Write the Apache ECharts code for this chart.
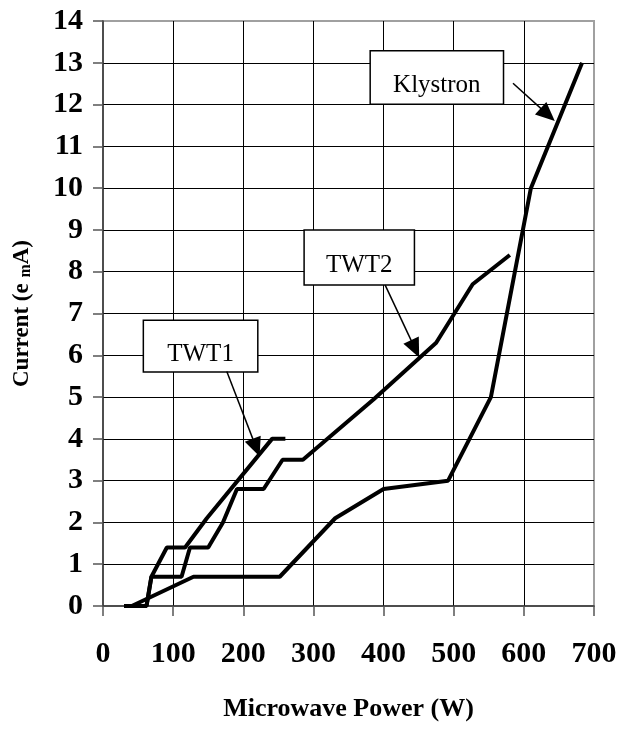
<!DOCTYPE html>
<html>
<head>
<meta charset="utf-8">
<script src="https://cdn.jsdelivr.net/npm/echarts@6/dist/echarts.min.js"></script>
<style>
  html, body { margin: 0; padding: 0; background: #fff; }
  #chart { width: 621px; height: 729px; }
</style>
</head>
<body>
<div id="chart"></div>
<script>
// ---- Data ----
const xTicks = { min: 0, max: 700, step: 100 };
const yTicks = { min: 0, max: 14, step: 1 };

const twt1 = [[30,0],[62,0],[69,0.7],[91,1.4],[117,1.4],[148,2.1],[241,4.0],[260,4.0]];
const twt2 = [[30,0],[62,0],[69,0.7],[112,0.7],[124,1.4],[150,1.4],[171,2.0],[191,2.8],[229,2.8],[256,3.5],[285,3.5],[386,4.95],[475,6.3],[527,7.7],[580,8.4]];
const klystron = [[41,0],[129,0.7],[252,0.7],[331,2.1],[400,2.8],[492,3.0],[553,5.0],[610,10.0],[683,13.0]];

// Annotation boxes (data coords) and labels
const boxLabels = ['TWT1', 'TWT2', 'Klystron'];
const boxCorners = [
  [[57.5, 6.84], [220.7, 5.60]],
  [[286.7, 9.0], [444, 7.68]],
  [[380.9, 13.29], [571, 12.01]]
];
// Arrows: [from, to] in data coords
const arrows = [
  [[176.5, 5.61], [218.4, 3.79]],
  [[402.3, 7.68], [445, 6.155]],
  [[584.5, 12.51], [634, 11.76]]
];

const serif = '"Liberation Serif", "Times New Roman", serif';

const chart = echarts.init(document.getElementById('chart'), null, { renderer: 'canvas' });

const lineStyle = { color: '#000', width: 4 };

const option = {
  animation: false,
  backgroundColor: '#fff',
  grid: {
    left: 103, top: 21, right: 27, bottom: 123,
    show: true, borderColor: '#a0a0a0', borderWidth: 2, backgroundColor: 'transparent'
  },
  xAxis: {
    type: 'value',
    min: xTicks.min, max: xTicks.max, interval: xTicks.step,
    name: 'Microwave Power (W)',
    nameLocation: 'middle',
    nameGap: 90,
    nameTextStyle: { fontFamily: serif, fontWeight: 'bold', fontSize: 26, color: '#000' },
    axisLine: { show: true, onZero: false, lineStyle: { color: '#333', width: 1.5 } },
    axisTick: { show: true, length: 10, lineStyle: { color: '#555', width: 1.5 } },
    axisLabel: { margin: 33, fontFamily: serif, fontWeight: 'bold', fontSize: 30, color: '#000' },
    splitLine: { show: true, showMinLine: false, showMaxLine: false, lineStyle: { color: '#000', width: 1 } }
  },
  yAxis: {
    type: 'value',
    min: yTicks.min, max: yTicks.max, interval: yTicks.step,
    name: 'Current (e {sub|m}A)',
    nameLocation: 'middle',
    nameGap: 69,
    nameTextStyle: {
      fontFamily: serif, fontWeight: 'bold', fontSize: 23, color: '#000',
      rich: { sub: { fontFamily: serif, fontWeight: 'bold', fontSize: 16, color: '#000', padding: [6, 0, 0, 0] } }
    },
    axisLine: { show: true, onZero: false, lineStyle: { color: '#333', width: 1.5 } },
    axisTick: { show: true, length: 10, lineStyle: { color: '#555', width: 1.5 } },
    axisLabel: { margin: 20, fontFamily: serif, fontWeight: 'bold', fontSize: 30, color: '#000' },
    splitLine: { show: true, showMinLine: false, showMaxLine: false, lineStyle: { color: '#000', width: 1 } }
  },
  series: [
    {
      name: 'TWT1', type: 'line', data: twt1, showSymbol: false, symbol: 'none',
      lineStyle: lineStyle, z: 3
    },
    {
      name: 'TWT2', type: 'line', data: twt2, showSymbol: false, symbol: 'none',
      lineStyle: lineStyle, z: 3
    },
    {
      name: 'Klystron', type: 'line', data: klystron, showSymbol: false, symbol: 'none',
      lineStyle: lineStyle, z: 3,
      markArea: {
        silent: true,
        itemStyle: { color: '#fff', borderColor: '#000', borderWidth: 1.5 },
        label: {
          show: true, position: 'inside', offset: [0, 8],
          fontFamily: serif, fontSize: 25, color: '#000'
        },
        data: boxCorners.map((c, i) => [
          { name: boxLabels[i], coord: c[0] },
          { coord: c[1] }
        ])
      },
      markLine: {
        silent: true,
        symbol: ['none', 'triangle'],
        symbolSize: [17, 19],
        lineStyle: { color: '#000', width: 1.5, type: 'solid' },
        label: { show: false },
        data: arrows.map(a => [{ coord: a[0] }, { coord: a[1] }])
      }
    }
  ]
};

chart.setOption(option);
</script>
</body>
</html>
